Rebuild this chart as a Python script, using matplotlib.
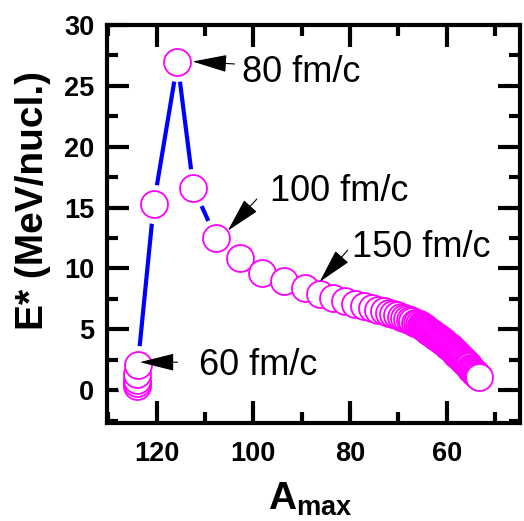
import matplotlib
matplotlib.use('Agg')
import matplotlib.pyplot as plt
from matplotlib.ticker import MultipleLocator

plt.rcParams['font.family'] = 'Liberation Sans'
plt.rcParams['mathtext.fontset'] = 'custom'
plt.rcParams['mathtext.rm'] = 'Liberation Sans'
plt.rcParams['mathtext.bf'] = 'Liberation Sans:bold'

# A_max and E*, in time order (10 fm/c steps)
a_max = [124.0, 124.0, 124.0, 124.0, 123.9,
         120.6, 115.7, 112.4, 107.7, 102.8, 98.3, 93.7, 89.4, 86.3,
         83.6, 81.1, 79.0, 77.2, 75.5, 74.3, 73.0, 72.0, 71.2, 70.35,
         69.5, 68.9, 68.3, 67.7, 67.1, 66.6, 66.2, 65.8, 65.4,
         65.2, 65.0, 64.8, 64.6, 64.4, 64.2, 64.0, 63.8, 63.6, 63.4,
         63.2, 63.0, 62.8, 62.6, 62.4, 62.2, 62.0, 61.8, 61.6, 61.4,
         61.2, 61.0, 60.8, 60.6, 60.4, 60.2, 60.0, 59.8, 59.6, 59.4,
         59.2, 59.0, 58.8, 58.6, 58.4, 58.2, 58.0, 57.8, 57.6, 57.4,
         57.2, 57.0, 56.8, 56.6, 56.4, 56.2, 56.0, 55.8, 55.6, 55.4,
         55.2, 55.0, 54.8, 54.6, 54.4, 54.2, 54.0, 53.8, 53.6, 53.4]
e_star = [0.35, 0.6, 0.85, 1.3, 2.1,
          15.3, 26.95, 16.6, 12.5, 10.85, 9.6, 8.95, 8.4, 7.9,
          7.55, 7.3, 7.1, 6.9, 6.75, 6.6, 6.5, 6.35, 6.25, 6.15,
          6.05, 5.95, 5.85, 5.75, 5.65, 5.55, 5.5, 5.4, 5.35,
          5.28, 5.22, 5.17, 5.11, 5.06, 5.01, 4.95, 4.90, 4.84, 4.79,
          4.73, 4.67, 4.61, 4.55, 4.49, 4.43, 4.37, 4.31, 4.25, 4.19,
          4.13, 4.07, 4.00, 3.93, 3.87, 3.80, 3.73, 3.67, 3.60, 3.53,
          3.45, 3.38, 3.31, 3.23, 3.16, 3.09, 3.01, 2.94, 2.86, 2.78,
          2.70, 2.62, 2.54, 2.46, 2.38, 2.29, 2.21, 2.12, 2.04, 1.95,
          1.86, 1.78, 1.69, 1.60, 1.51, 1.42, 1.33, 1.24, 1.15, 1.07]

# arrow annotations: label, text position, arrow tail, arrow tip
labels = ['60 fm/c', '80 fm/c', '100 fm/c', '150 fm/c']
text_pos = [(111.3, 2.0), (102.4, 26.1), (96.6, 16.3), (79.7, 11.75)]
arrow_tail = [(115.7, 2.3), (103.9, 26.8), (99.3, 15.7), (80.5, 11.5)]
arrow_tip = [(123.5, 2.3), (112.6, 27.0), (105.3, 13.1), (86.3, 8.9)]

fig = plt.figure(figsize=(5.24, 5.21), dpi=100)
ax = fig.add_axes([0.204, 0.188, 0.788, 0.764])

ax.plot(a_max, e_star, '-', color='#0000ff', lw=3, zorder=1)
# white halo so the line stops short of each circle
ax.plot(a_max, e_star, 'o', ls='none', ms=28, mfc='white', mec='none', zorder=2)
ax.plot(a_max, e_star, 'o', ls='none', ms=19.4, mfc='white', mec='#ff00ff',
        mew=1.3, zorder=3)

for lab, tp, tl, tip in zip(labels, text_pos, arrow_tail, arrow_tip):
    ax.annotate('', xy=tip, xytext=tl,
                arrowprops=dict(arrowstyle='-|>,head_length=2.2,head_width=0.55',
                                color='black', lw=0.8, shrinkA=0, shrinkB=0,
                                mutation_scale=10),
                zorder=5)
    ax.text(tp[0], tp[1], lab, fontsize=26, ha='left', va='center', zorder=5)

ax.set_xlim(130.3, 44.9)
ax.set_ylim(-2.7, 30)
ax.xaxis.set_major_locator(MultipleLocator(20))
ax.xaxis.set_minor_locator(MultipleLocator(10))
ax.yaxis.set_major_locator(MultipleLocator(5))
ax.yaxis.set_minor_locator(MultipleLocator(2.5))

for s in ax.spines.values():
    s.set_linewidth(3)
ax.tick_params(which='both', direction='in', top=True, right=True, width=3)
ax.tick_params(which='major', length=16)
ax.tick_params(which='minor', length=8)
ax.tick_params(axis='y', pad=9)
ax.tick_params(axis='x', pad=13)
for t in ax.get_xticklabels() + ax.get_yticklabels():
    t.set_fontsize(19.5)
    t.set_fontweight('bold')

ax.set_ylabel('E* (MeV/nucl.)', fontsize=28, fontweight='bold')
ax.yaxis.set_label_coords(-0.136, 0.558)
ax.set_xlabel(r'$\mathbf{A}_{\mathbf{max}}$', fontsize=28)
ax.xaxis.set_label_coords(0.492, -0.146)
ax.xaxis.label.set_verticalalignment('top')

fig.savefig('out.png', dpi=100)
